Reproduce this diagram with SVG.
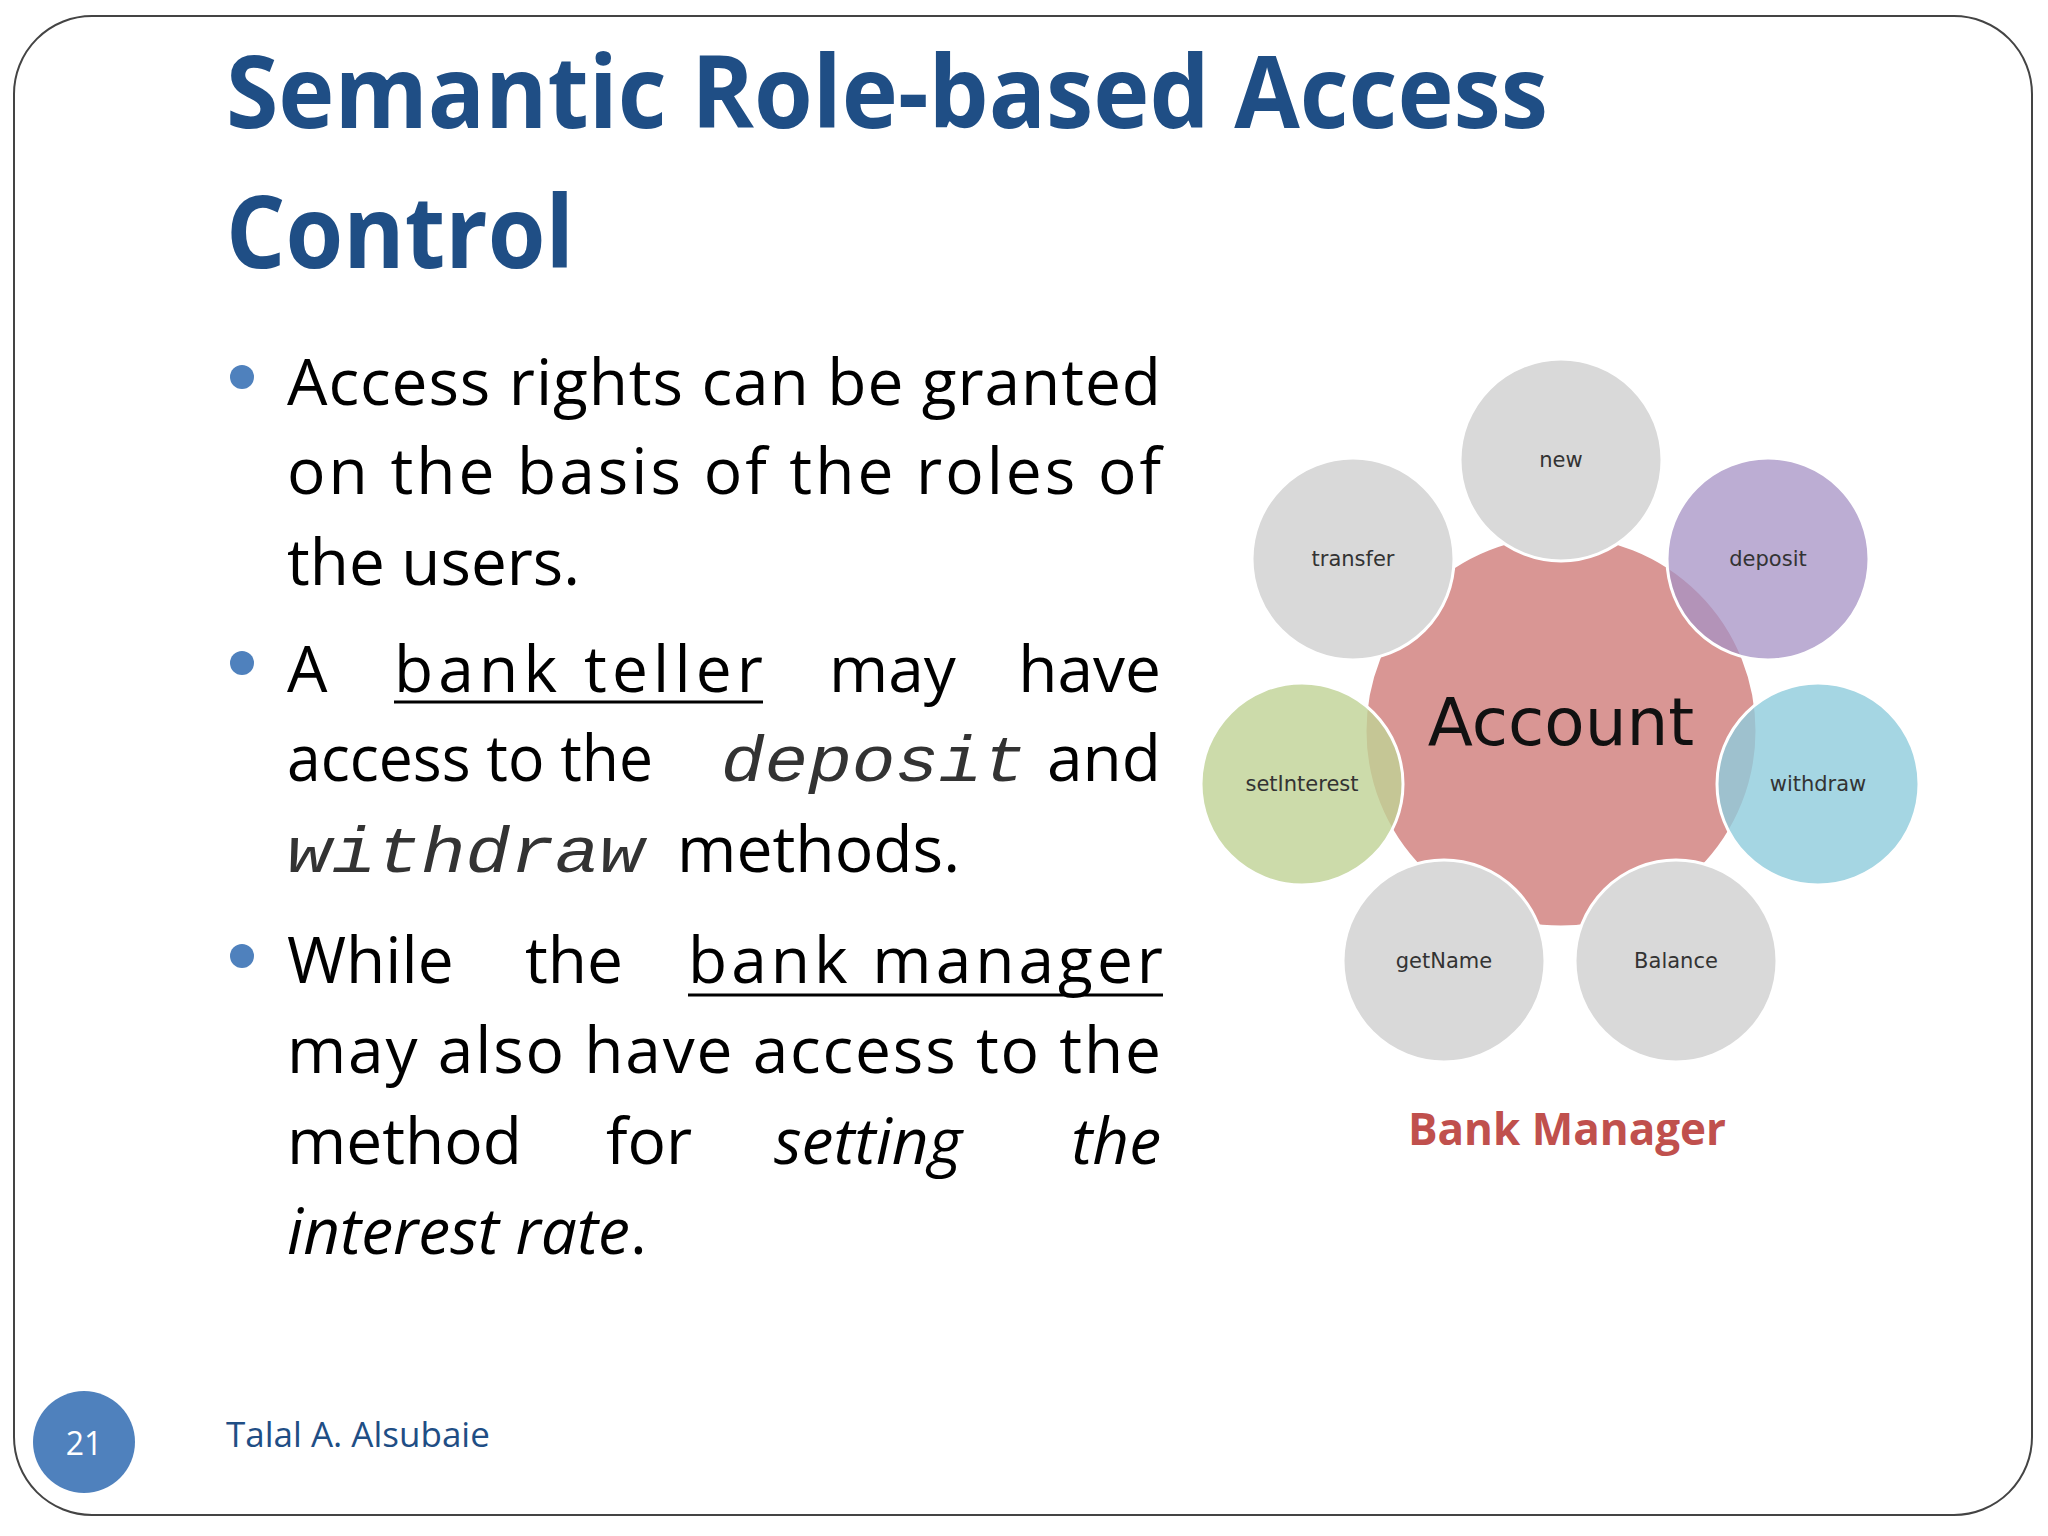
<svg xmlns="http://www.w3.org/2000/svg" width="2048" height="1536" viewBox="0 0 2048 1536">
<style>
.t{font-family:"Open Sans","Liberation Sans",sans-serif;font-size:64px;fill:#000}
.m{font-family:"Liberation Mono","DejaVu Sans Mono",monospace;font-style:italic;font-size:64px;fill:#333}
.i{font-style:italic}
.lbl{font-family:"DejaVu Sans",sans-serif;font-size:21px;fill:#333;text-anchor:middle}
.c{stroke:#fff;stroke-width:3}
</style>
<rect x="14" y="16" width="2018" height="1499" rx="78" fill="#fff" stroke="#444" stroke-width="2"/>
<g id="title" font-family="'Open Sans','Liberation Sans',sans-serif" font-weight="bold" fill="#1F4E85" font-size="100">
<text x="226" y="128" textLength="1322" lengthAdjust="spacingAndGlyphs">Semantic Role-based Access</text>
<text x="226" y="268" textLength="348" lengthAdjust="spacingAndGlyphs">Control</text>
</g>
<g id="bullets">
<circle cx="242" cy="377" r="12" fill="#4F81BD"/>
<circle cx="242" cy="663" r="12" fill="#4F81BD"/>
<circle cx="242" cy="956" r="12" fill="#4F81BD"/>
<text class="t" x="287" y="405" textLength="874" lengthAdjust="spacing">Access rights can be granted</text>
<text class="t" x="287" y="494" textLength="874" lengthAdjust="spacing">on the basis of the roles of</text>
<text class="t" x="287" y="585" textLength="293" lengthAdjust="spacingAndGlyphs">the users.</text>
<text class="t" x="287" y="692">A</text>
<text class="t" x="394" y="692" textLength="369" lengthAdjust="spacing">bank teller</text>
<line x1="394" y1="702" x2="763" y2="702" stroke="#000" stroke-width="3"/>
<text class="t" x="829" y="692">may</text>
<text class="t" x="1161" y="692" text-anchor="end">have</text>
<text class="t" x="287" y="781" textLength="366" lengthAdjust="spacingAndGlyphs">access to the</text>
<text class="m" x="721" y="781" textLength="305" lengthAdjust="spacingAndGlyphs">deposit</text>
<text class="t" x="1161" y="781" text-anchor="end">and</text>
<text class="m" x="287" y="872" textLength="357" lengthAdjust="spacingAndGlyphs">withdraw</text>
<text class="t" x="677" y="872" textLength="283" lengthAdjust="spacingAndGlyphs">methods.</text>
<text class="t" x="287" y="983">While</text>
<text class="t" x="525" y="983">the</text>
<text class="t" x="688" y="983" textLength="475" lengthAdjust="spacing">bank manager</text>
<line x1="688" y1="995" x2="1163" y2="995" stroke="#000" stroke-width="3"/>
<text class="t" x="287" y="1073" textLength="874" lengthAdjust="spacing">may also have access to the</text>
<text class="t" x="287" y="1164">method</text>
<text class="t" x="606" y="1164">for</text>
<text class="t i" x="774" y="1164">setting</text>
<text class="t i" x="1161" y="1164" text-anchor="end">the</text>
<text class="t" x="287" y="1254"><tspan class="i">interest rate</tspan>.</text>
</g>
<g id="account"><circle class="c" cx="1561" cy="731" r="196" fill="#D99694" stroke="none"/><text x="1561" y="745" font-family="'DejaVu Sans',sans-serif" font-size="66" text-anchor="middle" fill="#111">Account</text></g>
<g id="n-new"><circle class="c" cx="1561" cy="460" r="101" fill="#D9D9D9"/><text class="lbl" x="1561" y="467">new</text></g>
<g id="n-transfer"><circle class="c" cx="1353" cy="559" r="101" fill="#D9D9D9"/><text class="lbl" x="1353" y="566">transfer</text></g>
<g id="n-deposit"><circle class="c" cx="1768" cy="559" r="101" fill="#A591C4" fill-opacity="0.75"/><text class="lbl" x="1768" y="566">deposit</text></g>
<g id="n-withdraw"><circle class="c" cx="1818" cy="784" r="101" fill="#8FCCDC" fill-opacity="0.8"/><text class="lbl" x="1818" y="791">withdraw</text></g>
<g id="n-balance"><circle class="c" cx="1676" cy="961" r="101" fill="#D9D9D9"/><text class="lbl" x="1676" y="968">Balance</text></g>
<g id="n-getname"><circle class="c" cx="1444" cy="961" r="101" fill="#D9D9D9"/><text class="lbl" x="1444" y="968">getName</text></g>
<g id="n-setinterest"><circle class="c" cx="1302" cy="784" r="101" fill="#BFD295" fill-opacity="0.8"/><text class="lbl" x="1302" y="791">setInterest</text></g>
<g id="connectors"/>
<text x="1567" y="1145" font-family="'Open Sans','Liberation Sans',sans-serif" font-weight="bold" font-size="44" fill="#C0504D" text-anchor="middle">Bank Manager</text>
<g id="footer">
<circle cx="84" cy="1442" r="51" fill="#4F81BD"/>
<text x="84" y="1455" font-family="'Open Sans','Liberation Sans',sans-serif" font-size="32" fill="#fff" text-anchor="middle">21</text>
<text x="226" y="1447" font-family="'Open Sans','Liberation Sans',sans-serif" font-size="35" fill="#1F4E85">Talal A. Alsubaie</text>
</g>
</svg>
